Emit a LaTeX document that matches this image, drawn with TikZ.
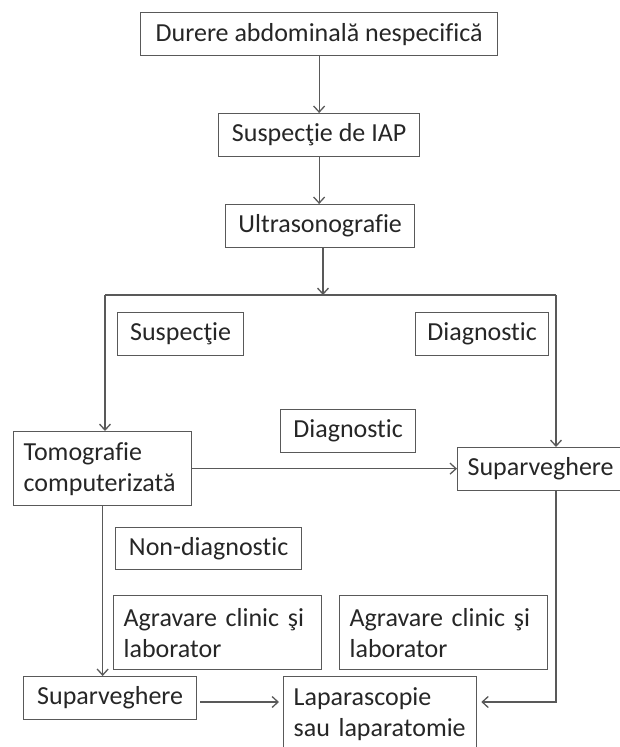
\documentclass[tikz,border=0pt]{standalone}
\usepackage{fontspec}
\setmainfont{Carlito}[Ligatures={NoCommon,NoContextual}]
\usetikzlibrary{arrows.meta}
\definecolor{linegray}{HTML}{595959}
\definecolor{textgray}{HTML}{262626}
\tikzset{
    box/.style={draw=linegray, line width=1.3pt, text=textgray,
        font=\fontsize{26pt}{31pt}\selectfont, inner xsep=10pt, inner ysep=0pt,
        anchor=north west, minimum height=43pt},
    tbox/.style={box, align=left, text width=#1, minimum height=74pt},
    flow/.style={draw=linegray, line width=1.3pt, -{Straight Barb[length=6pt,width=11pt]}}
}
\begin{document}
\begin{tikzpicture}[x=1pt, y=-1pt]
\useasboundingbox (0,0) rectangle (619,747);
%Casete
    \node[box, minimum width=357pt] (durere) at (140,12)
        {Durere abdominală nespecifică};
    \node[box, minimum width=201pt] (iap) at (218,113)
        {Suspecţie de IAP};
    \node[box, minimum width=189pt] (ultra) at (225,204)
        {Ultrasonografie};
    \node[box, minimum width=126pt] (susp) at (117,312)
        {Suspecţie};
    \node[box, minimum width=133pt] (diagR) at (415,312)
        {Diagnostic};
    \node[box, minimum width=135pt] (diagM) at (280,409)
        {Diagnostic};
    \node[tbox=158pt] (tomo) at (13,431)
        {Tomografie\\computerizată};
    \node[box, minimum width=161pt] (suparR) at (457,447)
        {Suparveghere};
    \node[box, minimum width=186pt, minimum height=42pt] (nondiag) at (115,527)
        {Non-diagnostic};
    \node[tbox=188pt] (agrL) at (113,595)
        {Agravare clinic şi\\laborator};
    \node[tbox=188pt] (agrR) at (339,595)
        {Agravare clinic şi\\laborator};
    \node[box, minimum width=173pt] (suparB) at (23,676)
        {Suparveghere};
    \node[tbox=173pt] (lapa) at (283,676)
        {Laparascopie\\sau laparatomie};

%Sageti
    \coordinate (split) at (323,295);
    \coordinate (lt) at (105,295);
    \coordinate (rt) at (556,295);
    \coordinate (bot) at (0,702);
    \draw[flow] (durere) -- (iap);
    \draw[flow] (iap.south) -- (iap.south |- ultra.north);
    \draw[flow] (split |- ultra.south) -- (split);
    \draw[draw=linegray, line width=1.3pt] (lt) -- (rt);
    \draw[flow] (lt) -- (lt |- tomo.north);
    \draw[flow] (rt) -- (rt |- suparR.north);
    \draw[flow] (tomo.east) -- (tomo.east -| suparR.west);
    \draw[flow] (tomo.south) -- (tomo.south |- suparB.north);
    \draw[flow, shorten <=3pt, shorten >=4pt] (suparB.east |- bot) -- (lapa.west |- bot);
    \draw[flow, shorten >=4pt] (rt |- suparR.south) |- (lapa.east |- bot);
\end{tikzpicture}
\end{document}
